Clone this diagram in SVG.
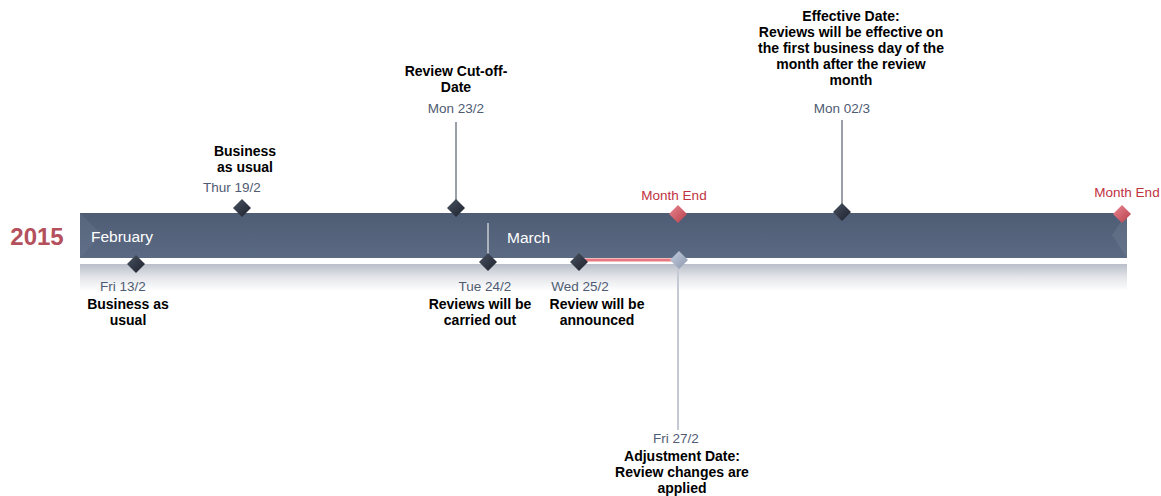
<svg xmlns="http://www.w3.org/2000/svg" width="1161" height="496" viewBox="0 0 1161 496">
<defs>
<linearGradient id="barG" x1="0" y1="0" x2="0" y2="1">
<stop offset="0" stop-color="#4e5c74"/>
<stop offset="1" stop-color="#5b6a83"/>
</linearGradient>
<linearGradient id="reflG" x1="0" y1="0" x2="0" y2="1">
<stop offset="0" stop-color="#b9bec8"/>
<stop offset="0.5" stop-color="#e4e6ea"/>
<stop offset="1" stop-color="#ffffff"/>
</linearGradient>
<linearGradient id="darkG" x1="0" y1="0" x2="1" y2="1">
<stop offset="0" stop-color="#4a5262"/>
<stop offset="1" stop-color="#1c212b"/>
</linearGradient>
<linearGradient id="redG" x1="0" y1="0" x2="1" y2="1">
<stop offset="0" stop-color="#e98690"/>
<stop offset="1" stop-color="#b8404c"/>
</linearGradient>
<linearGradient id="lightG" x1="0" y1="0" x2="1" y2="1">
<stop offset="0" stop-color="#c4cde0"/>
<stop offset="1" stop-color="#8b97ae"/>
</linearGradient>
<path id="dia" d="M0,-9 L9,0 L0,9 L-9,0 Z"/>
</defs>
<style>
text{font-family:"Liberation Sans",Arial,sans-serif}
.t{font-weight:bold;font-size:14px;fill:#000;text-anchor:middle}
.d{font-size:13.5px;fill:#4f5b73;text-anchor:middle}
.me{font-size:13.5px;fill:#c0323e;text-anchor:middle}
.m{font-size:15.5px;fill:#fff}
.stem{stroke:#9a9ea6;stroke-width:2}
</style>
<rect width="1161" height="496" fill="#fff"/>
<text x="37" y="245" text-anchor="middle" font-size="24" font-weight="bold" fill="#b4505c">2015</text>
<g id="bar">
<rect x="80" y="264" width="1047" height="27" fill="url(#reflG)"/>
<rect x="80" y="213" width="1047" height="45" fill="url(#barG)"/>
<polygon points="80,213 102,235 80,258" fill="#6a7890" opacity="0.35"/>
<polygon points="1127,213 1112,235 1127,258" fill="#7a879c" opacity="0.3"/>
<line x1="488" y1="223" x2="488" y2="258" stroke="#fff" stroke-width="1"/>
<text class="m" x="91" y="242">February</text>
<text class="m" x="507" y="243">March</text>
</g>
<g id="connectors">
<line class="stem" x1="456" y1="122" x2="456" y2="203"/>
<line class="stem" x1="842" y1="120" x2="842" y2="205"/>
<line x1="678" y1="262" x2="678" y2="430" stroke="#c4c9d4" stroke-width="2"/>
<line x1="579" y1="260" x2="678" y2="260" stroke="#e8777f" stroke-width="3"/>
</g>
<g id="n-fri13">
<use href="#dia" x="136" y="264" fill="url(#darkG)"/>
<text class="d" x="123" y="291">Fri 13/2</text>
<text class="t" x="128" y="309">Business as</text>
<text class="t" x="128" y="325">usual</text>
</g>
<g id="n-thu19">
<use href="#dia" x="242" y="208" fill="url(#darkG)"/>
<text class="d" x="232" y="192">Thur 19/2</text>
<text class="t" x="245" y="156">Business</text>
<text class="t" x="245" y="172">as usual</text>
</g>
<g id="n-mon23">
<use href="#dia" x="456" y="208" fill="url(#darkG)"/>
<text class="d" x="456" y="113">Mon 23/2</text>
<text class="t" x="456" y="76">Review Cut-off-</text>
<text class="t" x="456" y="92">Date</text>
</g>
<g id="n-tue24">
<use href="#dia" x="488" y="262" fill="url(#darkG)"/>
<text class="d" x="485" y="291">Tue 24/2</text>
<text class="t" x="480" y="309">Reviews will be</text>
<text class="t" x="480" y="325">carried out</text>
</g>
<g id="n-wed25">
<use href="#dia" x="579" y="262" fill="url(#darkG)"/>
<text class="d" x="580" y="291">Wed 25/2</text>
<text class="t" x="597" y="309">Review will be</text>
<text class="t" x="597" y="325">announced</text>
</g>
<g id="n-monthend1">
<use href="#dia" x="678" y="214" fill="url(#redG)"/>
<text class="me" x="674" y="200">Month End</text>
</g>
<g id="n-fri27">
<use href="#dia" x="679" y="260" fill="url(#lightG)"/>
<text class="d" x="676" y="443">Fri 27/2</text>
<text class="t" x="682" y="461">Adjustment Date:</text>
<text class="t" x="682" y="477">Review changes are</text>
<text class="t" x="682" y="493">applied</text>
</g>
<g id="n-mon02">
<use href="#dia" x="842" y="212" fill="url(#darkG)"/>
<text class="d" x="842" y="113">Mon 02/3</text>
<text class="t" x="851" y="21">Effective Date:</text>
<text class="t" x="851" y="37">Reviews will be effective on</text>
<text class="t" x="851" y="53">the first business day of the</text>
<text class="t" x="851" y="69">month after the review</text>
<text class="t" x="851" y="85">month</text>
</g>
<g id="n-monthend2">
<use href="#dia" x="1122" y="214" fill="url(#redG)"/>
<text class="me" x="1127" y="197">Month End</text>
</g>
</svg>
